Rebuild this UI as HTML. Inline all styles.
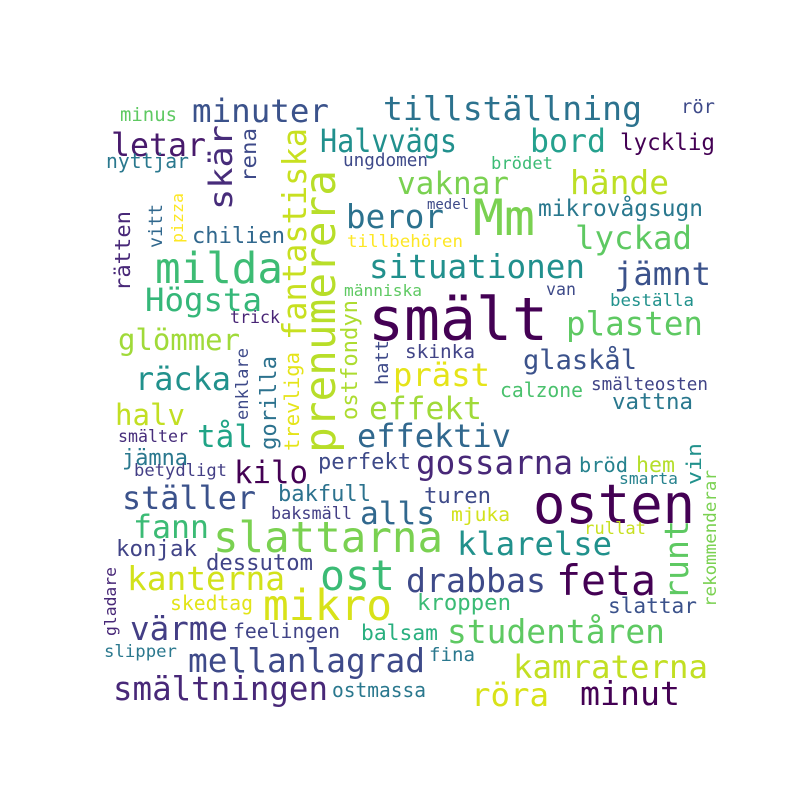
<!DOCTYPE html>
<html><head><meta charset="utf-8"><style>
html,body{margin:0;padding:0;background:#fff;}
svg{display:block;}
text{font-family:"DejaVu Sans Mono","Liberation Mono",monospace;}
</style></head><body>
<svg width="800" height="800" viewBox="0 0 800 800">
<rect width="800" height="800" fill="#fff"/>
<g lengthAdjust="spacingAndGlyphs">
<text x="192" y="122" font-size="32" textLength="137" lengthAdjust="spacingAndGlyphs" fill="#3b528b">minuter</text>
<text x="383" y="120" font-size="33" textLength="259" lengthAdjust="spacingAndGlyphs" fill="#2c728e">tillställning</text>
<text x="681" y="113" font-size="19" textLength="34" lengthAdjust="spacingAndGlyphs" fill="#3e4a89">rör</text>
<text x="120" y="121" font-size="19" textLength="57" lengthAdjust="spacingAndGlyphs" fill="#5ec962">minus</text>
<text x="111" y="156" font-size="32" textLength="95" lengthAdjust="spacingAndGlyphs" fill="#481a6c">letar</text>
<text x="320" y="152" font-size="32" textLength="137" lengthAdjust="spacingAndGlyphs" fill="#21908d">Halvvägs</text>
<text x="530" y="152" font-size="32" textLength="76" lengthAdjust="spacingAndGlyphs" fill="#25a18e">bord</text>
<text x="620" y="150" font-size="23" textLength="95" lengthAdjust="spacingAndGlyphs" fill="#440154">lycklig</text>
<text x="106" y="168" font-size="20" textLength="83" lengthAdjust="spacingAndGlyphs" fill="#2a788e">nyttjar</text>
<text x="343" y="166" font-size="18" textLength="85" lengthAdjust="spacingAndGlyphs" fill="#3e4989">ungdomen</text>
<text x="491" y="169" font-size="17" textLength="62" lengthAdjust="spacingAndGlyphs" fill="#3bbb75">brödet</text>
<text x="397" y="194" font-size="31" textLength="112" lengthAdjust="spacingAndGlyphs" fill="#7ad151">vaknar</text>
<text x="570" y="194" font-size="33" textLength="99" lengthAdjust="spacingAndGlyphs" fill="#bddf26">hände</text>
<text x="427" y="209" font-size="14" textLength="42" lengthAdjust="spacingAndGlyphs" fill="#3e4a89">medel</text>
<text x="538" y="216" font-size="23" textLength="165" lengthAdjust="spacingAndGlyphs" fill="#2a788e">mikrovågsugn</text>
<text x="346" y="228" font-size="33" textLength="98" lengthAdjust="spacingAndGlyphs" fill="#2c728e">beror</text>
<text x="192" y="243" font-size="22" textLength="93" lengthAdjust="spacingAndGlyphs" fill="#31688e">chilien</text>
<text x="347" y="247" font-size="17" textLength="116" lengthAdjust="spacingAndGlyphs" fill="#fde725">tillbehören</text>
<text x="575" y="249" font-size="32" textLength="117" lengthAdjust="spacingAndGlyphs" fill="#5ec962">lyckad</text>
<text x="473" y="235" font-size="50" textLength="62" lengthAdjust="spacingAndGlyphs" fill="#7ad151">Mm</text>
<text x="155" y="283" font-size="43" textLength="128" lengthAdjust="spacingAndGlyphs" fill="#3dbc74">milda</text>
<text x="369" y="278" font-size="33" textLength="216" lengthAdjust="spacingAndGlyphs" fill="#21908d">situationen</text>
<text x="614" y="285" font-size="32" textLength="97" lengthAdjust="spacingAndGlyphs" fill="#3b528b">jämnt</text>
<text x="344" y="296" font-size="16" textLength="78" lengthAdjust="spacingAndGlyphs" fill="#5ec962">människa</text>
<text x="546" y="295" font-size="17" textLength="30" lengthAdjust="spacingAndGlyphs" fill="#3e4a89">van</text>
<text x="145" y="311" font-size="32" textLength="117" lengthAdjust="spacingAndGlyphs" fill="#35b779">Högsta</text>
<text x="610" y="306" font-size="17" textLength="84" lengthAdjust="spacingAndGlyphs" fill="#21918c">beställa</text>
<text x="230" y="323" font-size="17" textLength="50" lengthAdjust="spacingAndGlyphs" fill="#482475">trick</text>
<text x="368" y="340" font-size="60" textLength="180" lengthAdjust="spacingAndGlyphs" fill="#440154">smält</text>
<text x="566" y="335" font-size="33" textLength="137" lengthAdjust="spacingAndGlyphs" fill="#5ec962">plasten</text>
<text x="118" y="350" font-size="29" textLength="122" lengthAdjust="spacingAndGlyphs" fill="#a0da39">glömmer</text>
<text x="405" y="358" font-size="19" textLength="70" lengthAdjust="spacingAndGlyphs" fill="#414487">skinka</text>
<text x="523" y="369" font-size="27" textLength="114" lengthAdjust="spacingAndGlyphs" fill="#3b528b">glaskål</text>
<text x="135" y="390" font-size="32" textLength="96" lengthAdjust="spacingAndGlyphs" fill="#21918c">räcka</text>
<text x="393" y="386" font-size="32" textLength="97" lengthAdjust="spacingAndGlyphs" fill="#e5e419">präst</text>
<text x="500" y="397" font-size="20" textLength="83" lengthAdjust="spacingAndGlyphs" fill="#4ac16d">calzone</text>
<text x="591" y="390" font-size="18" textLength="117" lengthAdjust="spacingAndGlyphs" fill="#414487">smälteosten</text>
<text x="115" y="425" font-size="29" textLength="70" lengthAdjust="spacingAndGlyphs" fill="#c2df23">halv</text>
<text x="369" y="419" font-size="31" textLength="113" lengthAdjust="spacingAndGlyphs" fill="#a0da39">effekt</text>
<text x="612" y="409" font-size="22" textLength="81" lengthAdjust="spacingAndGlyphs" fill="#2a788e">vattna</text>
<text x="197" y="447" font-size="31" textLength="56" lengthAdjust="spacingAndGlyphs" fill="#20a486">tål</text>
<text x="118" y="442" font-size="17" textLength="70" lengthAdjust="spacingAndGlyphs" fill="#472d7b">smälter</text>
<text x="357" y="447" font-size="32" textLength="154" lengthAdjust="spacingAndGlyphs" fill="#31688e">effektiv</text>
<text x="122" y="465" font-size="22" textLength="66" lengthAdjust="spacingAndGlyphs" fill="#2a788e">jämna</text>
<text x="318" y="469" font-size="22" textLength="93" lengthAdjust="spacingAndGlyphs" fill="#3e4a89">perfekt</text>
<text x="416" y="474" font-size="33" textLength="157" lengthAdjust="spacingAndGlyphs" fill="#482878">gossarna</text>
<text x="134" y="476" font-size="17" textLength="93" lengthAdjust="spacingAndGlyphs" fill="#433e85">betydligt</text>
<text x="234" y="483" font-size="31" textLength="74" lengthAdjust="spacingAndGlyphs" fill="#440154">kilo</text>
<text x="579" y="472" font-size="20" textLength="49" lengthAdjust="spacingAndGlyphs" fill="#26828e">bröd</text>
<text x="636" y="472" font-size="21" textLength="39" lengthAdjust="spacingAndGlyphs" fill="#b5de2b">hem</text>
<text x="619" y="484" font-size="16" textLength="59" lengthAdjust="spacingAndGlyphs" fill="#26828e">smarta</text>
<text x="122" y="509" font-size="32" textLength="134" lengthAdjust="spacingAndGlyphs" fill="#3b528b">ställer</text>
<text x="278" y="501" font-size="22" textLength="93" lengthAdjust="spacingAndGlyphs" fill="#2c728e">bakfull</text>
<text x="424" y="503" font-size="22" textLength="67" lengthAdjust="spacingAndGlyphs" fill="#3e4a89">turen</text>
<text x="360" y="524" font-size="31" textLength="75" lengthAdjust="spacingAndGlyphs" fill="#31688e">alls</text>
<text x="533" y="523" font-size="54" textLength="162" lengthAdjust="spacingAndGlyphs" fill="#440154">osten</text>
<text x="271" y="519" font-size="17" textLength="81" lengthAdjust="spacingAndGlyphs" fill="#433e85">baksmäll</text>
<text x="451" y="521" font-size="19" textLength="59" lengthAdjust="spacingAndGlyphs" fill="#d2e21b">mjuka</text>
<text x="584" y="534" font-size="17" textLength="62" lengthAdjust="spacingAndGlyphs" fill="#c8e020">rullat</text>
<text x="133" y="538" font-size="32" textLength="76" lengthAdjust="spacingAndGlyphs" fill="#3bbb75">fann</text>
<text x="213" y="552" font-size="43" textLength="230" lengthAdjust="spacingAndGlyphs" fill="#7ad151">slattarna</text>
<text x="457" y="555" font-size="32" textLength="155" lengthAdjust="spacingAndGlyphs" fill="#21918c">klarelse</text>
<text x="116" y="556" font-size="22" textLength="81" lengthAdjust="spacingAndGlyphs" fill="#414487">konjak</text>
<text x="206" y="570" font-size="22" textLength="107" lengthAdjust="spacingAndGlyphs" fill="#414487">dessutom</text>
<text x="127" y="590" font-size="33" textLength="158" lengthAdjust="spacingAndGlyphs" fill="#d2e21b">kanterna</text>
<text x="320" y="590" font-size="42" textLength="75" lengthAdjust="spacingAndGlyphs" fill="#3bbb75">ost</text>
<text x="406" y="592" font-size="33" textLength="140" lengthAdjust="spacingAndGlyphs" fill="#3e4a89">drabbas</text>
<text x="556" y="595" font-size="42" textLength="100" lengthAdjust="spacingAndGlyphs" fill="#440154">feta</text>
<text x="170" y="610" font-size="20" textLength="83" lengthAdjust="spacingAndGlyphs" fill="#e2e418">skedtag</text>
<text x="263" y="620" font-size="43" textLength="129" lengthAdjust="spacingAndGlyphs" fill="#d8e219">mikro</text>
<text x="417" y="610" font-size="22" textLength="94" lengthAdjust="spacingAndGlyphs" fill="#3bbb75">kroppen</text>
<text x="608" y="613" font-size="21" textLength="89" lengthAdjust="spacingAndGlyphs" fill="#3b528b">slattar</text>
<text x="130" y="640" font-size="33" textLength="98" lengthAdjust="spacingAndGlyphs" fill="#433e85">värme</text>
<text x="233" y="638" font-size="20" textLength="107" lengthAdjust="spacingAndGlyphs" fill="#414487">feelingen</text>
<text x="361" y="640" font-size="21" textLength="77" lengthAdjust="spacingAndGlyphs" fill="#29af7f">balsam</text>
<text x="447" y="643" font-size="33" textLength="218" lengthAdjust="spacingAndGlyphs" fill="#5ec962">studentåren</text>
<text x="104" y="657" font-size="17" textLength="73" lengthAdjust="spacingAndGlyphs" fill="#2a788e">slipper</text>
<text x="188" y="672" font-size="33" textLength="237" lengthAdjust="spacingAndGlyphs" fill="#3e4a89">mellanlagrad</text>
<text x="429" y="661" font-size="19" textLength="46" lengthAdjust="spacingAndGlyphs" fill="#2a788e">fina</text>
<text x="513" y="678" font-size="32" textLength="195" lengthAdjust="spacingAndGlyphs" fill="#c2df23">kamraterna</text>
<text x="113" y="700" font-size="33" textLength="215" lengthAdjust="spacingAndGlyphs" fill="#482878">smältningen</text>
<text x="332" y="697" font-size="20" textLength="94" lengthAdjust="spacingAndGlyphs" fill="#2a788e">ostmassa</text>
<text x="471" y="706" font-size="32" textLength="78" lengthAdjust="spacingAndGlyphs" fill="#d8e219">röra</text>
<text x="580" y="705" font-size="33" textLength="100" lengthAdjust="spacingAndGlyphs" fill="#440154">minut</text>

<text transform="translate(232,210) rotate(-90)" font-size="32" textLength="85" lengthAdjust="spacingAndGlyphs" fill="#472c7a">skär</text>
<text transform="translate(256,182) rotate(-90)" font-size="21" textLength="54" lengthAdjust="spacingAndGlyphs" fill="#3e4a89">rena</text>
<text transform="translate(306,340) rotate(-90)" font-size="33" textLength="212" lengthAdjust="spacingAndGlyphs" fill="#c8e020">fantastiska</text>
<text transform="translate(335,453) rotate(-90)" font-size="43" textLength="283" lengthAdjust="spacingAndGlyphs" fill="#b8de29">prenumerera</text>
<text transform="translate(183,243) rotate(-90)" font-size="16" textLength="50" lengthAdjust="spacingAndGlyphs" fill="#fde725">pizza</text>
<text transform="translate(162,248) rotate(-90)" font-size="19" textLength="44" lengthAdjust="spacingAndGlyphs" fill="#31688e">vitt</text>
<text transform="translate(130,291) rotate(-90)" font-size="21" textLength="80" lengthAdjust="spacingAndGlyphs" fill="#482878">rätten</text>
<text transform="translate(248,420) rotate(-90)" font-size="17" textLength="72" lengthAdjust="spacingAndGlyphs" fill="#3e4a89">enklare</text>
<text transform="translate(276,450) rotate(-90)" font-size="22" textLength="94" lengthAdjust="spacingAndGlyphs" fill="#2c728e">gorilla</text>
<text transform="translate(299,451) rotate(-90)" font-size="20" textLength="99" lengthAdjust="spacingAndGlyphs" fill="#e5e419">trevliga</text>
<text transform="translate(357,420) rotate(-90)" font-size="22" textLength="120" lengthAdjust="spacingAndGlyphs" fill="#addc30">ostfondyn</text>
<text transform="translate(388,385) rotate(-90)" font-size="18" textLength="45" lengthAdjust="spacingAndGlyphs" fill="#3e4a89">hatt</text>
<text transform="translate(701,485) rotate(-90)" font-size="20" textLength="42" lengthAdjust="spacingAndGlyphs" fill="#21918c">vin</text>
<text transform="translate(688,600) rotate(-90)" font-size="33" textLength="80" lengthAdjust="spacingAndGlyphs" fill="#5ec962">runt</text>
<text transform="translate(716,607) rotate(-90)" font-size="17" textLength="137" lengthAdjust="spacingAndGlyphs" fill="#7ad151">rekommenderar</text>
<text transform="translate(116,636) rotate(-90)" font-size="16" textLength="69" lengthAdjust="spacingAndGlyphs" fill="#482878">gladare</text>
</g>
</svg>
</body></html>
